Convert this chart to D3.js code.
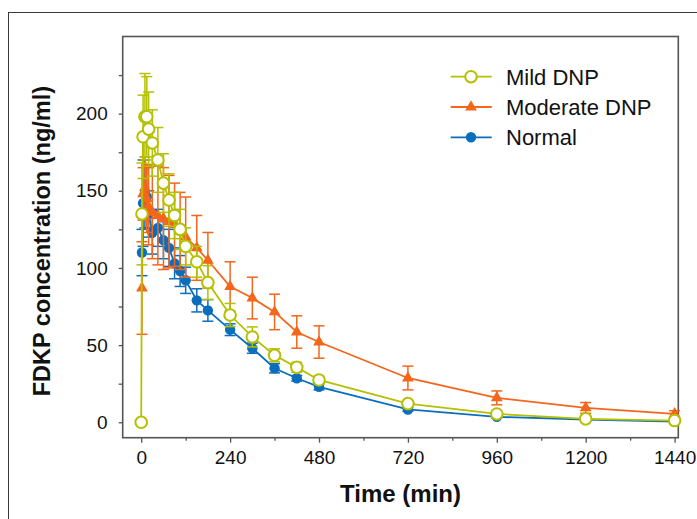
<!DOCTYPE html>
<html><head><meta charset="utf-8">
<script src="https://cdn.jsdelivr.net/npm/d3@7"></script>
<style>html,body{margin:0;padding:0;background:#fff;}svg{display:block;}</style>
</head><body>
<svg id="c" width="697" height="519"></svg>
<script>
const times = [0, 2, 5, 10, 15, 20, 30, 45, 60, 75, 90, 105, 120, 150, 180, 240, 300, 360, 420, 480, 720, 960, 1200, 1440];
const mildValues = [0, 135, 185, 198, 198, 190, 181, 170, 155, 144, 134, 125, 114, 104, 90.5, 69.5, 55.3, 43.4, 35.6, 27.4, 12.1, 5.4, 2.2, 1.1];
const mildErr    = [0, 33, 27, 28, 26, 24, 21.5, 21, 19, 17, 15, 13, 12, 10, 11, 7.5, 6.5, 4.2, 3.2, 2.5, 1.5, 1, 0.5, 0.5];
const modValues  = [null, 87, 148, 152, 145, 140, 136, 134, 132, 130, 128, 124, 120, 113, 105, 88, 80.5, 71.5, 58.5, 52, 28.7, 15.8, 9.3, 5.5];
const modErr     = [null, 30, 17, 20, 22, 25, 30, 32, 33, 30, 27, 25, 26, 21, 18, 16, 13.5, 11.5, 10.5, 10.5, 7.7, 4.5, 3.5, 2];
const normValues = [null, 110, 142, 148, 146, 135, 123, 126, 118, 113, 103, 98, 92, 79, 72.5, 60, 48, 35, 28.5, 23, 8.3, 3.5, 1.8, 0.4];
const normErr    = [null, 15, 28, 22, 20, 15, 14, 12, 12, 12, 10, 10, 8.5, 7.5, 7, 3.8, 3.3, 3, 1.8, 2, 1.2, 0.8, 0.5, 0.3];
const seriesNames = ["Mild DNP", "Moderate DNP", "Normal"];
const xTicks = [0, 240, 480, 720, 960, 1200, 1440];
const xMinorTicks = [120, 360, 600, 840, 1080, 1320];
const yTicks = [0, 50, 100, 150, 200];
const yMinorTicks = [25, 75, 125, 175, 225];
const xTitle = "Time (min)";
const yTitle = "FDKP concentration (ng/ml)";

const colors = {"Mild DNP": "#b4c000", "Moderate DNP": "#f4661b", "Normal": "#0b6ebc"};
const svg = d3.select("#c");
const L = 122.7, R = 678.3, T = 36.5, B = 437.7;
const x = d3.scaleLinear().domain([-50, 1450]).range([L, R]);
const y = d3.scaleLinear().domain([-10, 250]).range([B, T]);

// outer frame
svg.append("rect").attr("x", 8.5).attr("y", 12.5).attr("width", 720).attr("height", 540)
  .attr("fill", "none").attr("stroke", "#3a3a3a").attr("stroke-width", 1);

const font = "Liberation Sans, Arial, Helvetica, sans-serif";

// axes
const xAxis = svg.append("g").attr("transform", `translate(0,${B})`)
  .call(d3.axisBottom(x).tickValues(xTicks).tickSize(5).tickPadding(8).tickFormat(d3.format("d")));
const xMinor = svg.append("g").attr("transform", `translate(0,${B})`)
  .call(d3.axisBottom(x).tickValues(xMinorTicks).tickSize(3).tickFormat(""));
const yAxis = svg.append("g").attr("transform", `translate(${L},0)`)
  .call(d3.axisLeft(y).tickValues(yTicks).tickSize(4).tickPadding(11));
const yMinor = svg.append("g").attr("transform", `translate(${L},0)`)
  .call(d3.axisLeft(y).tickValues(yMinorTicks).tickSize(4).tickFormat(""));
[xAxis, xMinor, yAxis, yMinor].forEach(g => {
  g.select(".domain").remove();
  g.selectAll(".tick line").attr("stroke", "#555").attr("stroke-width", 1.3);
  g.selectAll("text").attr("font-family", font).attr("font-size", 19).attr("fill", "#111");
});

// plot frame
svg.append("rect").attr("x", L).attr("y", T).attr("width", R - L).attr("height", B - T)
  .attr("fill", "none").attr("stroke", "#555").attr("stroke-width", 1.6);

// titles
svg.append("text").attr("x", (L + R) / 2).attr("y", 502).attr("text-anchor", "middle")
  .attr("font-family", font).attr("font-weight", "bold").attr("font-size", 24).attr("fill", "#111").text(xTitle);
svg.append("text").attr("transform", `translate(50,${(T + B) / 2 + 4}) rotate(-90)`).attr("text-anchor", "middle")
  .attr("font-family", font).attr("font-weight", "bold").attr("font-size", 23.5).attr("fill", "#111").text(yTitle);

const series = [
  {name: "Normal", vals: normValues, err: normErr, marker: "dot"},
  {name: "Moderate DNP", vals: modValues, err: modErr, marker: "tri"},
  {name: "Mild DNP", vals: mildValues, err: mildErr, marker: "open"}
];

function drawMarker(g, type, color, cx, cy) {
  if (type === "open") {
    g.append("circle").attr("cx", cx).attr("cy", cy).attr("r", 5.8)
      .attr("fill", "#fff").attr("stroke", color).attr("stroke-width", 2);
  } else if (type === "dot") {
    g.append("circle").attr("cx", cx).attr("cy", cy).attr("r", 5.2).attr("fill", color);
  } else {
    g.append("path").attr("transform", `translate(${cx},${cy})`)
      .attr("d", d3.symbol().type(d3.symbolTriangle).size(60)()).attr("fill", color);
  }
}

series.forEach(s => {
  const c = colors[s.name];
  const pts = times.map((t, i) => ({t, v: s.vals[i], e: s.err[i]})).filter(d => d.v !== null);
  const g = svg.append("g");
  // error bars
  pts.forEach(d => {
    if (!d.e) return;
    const xx = x(d.t), y1 = y(d.v + d.e), y0 = y(d.v - d.e);
    g.append("line").attr("x1", xx).attr("x2", xx).attr("y1", y1).attr("y2", y0).attr("stroke", c).attr("stroke-width", 1.5);
    [y1, y0].forEach(yy => g.append("line").attr("x1", xx - 5.5).attr("x2", xx + 5.5).attr("y1", yy).attr("y2", yy)
      .attr("stroke", c).attr("stroke-width", 1.5));
  });
  g.append("path").datum(pts).attr("fill", "none").attr("stroke", c).attr("stroke-width", 1.8)
    .attr("d", d3.line().x(d => x(d.t)).y(d => y(d.v)));
  pts.forEach(d => drawMarker(g, s.marker, c, x(d.t), y(d.v)));
});

// legend
const legend = [
  {name: "Mild DNP", marker: "open"},
  {name: "Moderate DNP", marker: "tri"},
  {name: "Normal", marker: "dot"}
];
legend.forEach((l, i) => {
  const yy = 76.7 + i * 30.3, c = colors[l.name];
  const g = svg.append("g");
  g.append("line").attr("x1", 450.7).attr("x2", 491.7).attr("y1", yy).attr("y2", yy).attr("stroke", c).attr("stroke-width", 1.8);
  drawMarker(g, l.marker, c, 471, yy);
  g.append("text").attr("x", 506).attr("y", yy + 8).attr("font-family", font).attr("font-size", 22).attr("fill", "#111").text(l.name);
});
</script>
</body></html>
